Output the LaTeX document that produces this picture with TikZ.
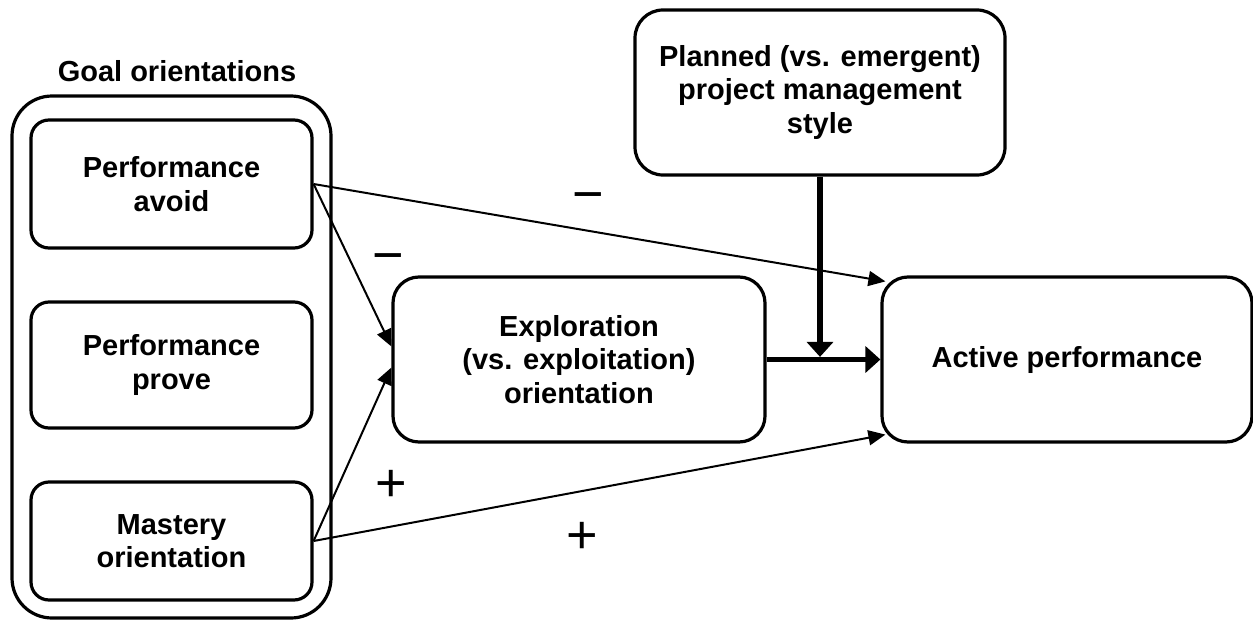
\documentclass[tikz,border=0pt]{standalone}
\usepackage{fontspec}
\setmainfont{Liberation Sans}
\usetikzlibrary{arrows.meta}

\begin{document}
\begin{tikzpicture}[x=0.5pt,y=-0.5pt,
  box/.style={draw,line width=1.6pt,rounded corners=13pt,align=center,
    inner sep=0pt,font=\fontsize{14.5}{16.75}\selectfont\bfseries},
  goalbox/.style={box,rounded corners=9pt,minimum width=140.5pt},
  bigbox/.style={box,minimum height=82.5pt},
  sign/.style={inner sep=0pt,font=\fontsize{27}{30}\selectfont},
  link/.style={line width=1pt,-{Triangle[length=8.5pt,width=7.5pt]}},
  mainlink/.style={line width=2.8pt,-{Triangle[length=7.5pt,width=13pt]}}]
  \useasboundingbox (0,0) rectangle (1253,621);

  % goal orientations group
  \node[inner sep=0pt,font=\fontsize{14.5}{16.75}\selectfont\bfseries] (goaltitle) at (177,71) {Goal orientations};
  \node[box,rounded corners=20pt,minimum width=159.5pt,minimum height=261pt] (goals) at (171.5,357) {};
  \node[goalbox,minimum height=64pt] (avoid) at (171.5,184) {Performance\\avoid};
  \node[goalbox,minimum height=63pt] (prove) at (171.5,365) {Performance\\prove};
  \node[goalbox,minimum height=59pt] (mastery) at (171.5,541) {Mastery\\orientation};

  % mediator, moderator and outcome
  \node[bigbox,rounded corners=14pt,minimum width=185pt] (planned) at (820,92.5) {Planned (vs. emergent)\\project management\\style};
  \node[bigbox,minimum width=186pt] (expl) at (579,359.5) {Exploration\\(vs. exploitation)\\orientation};
  \node[bigbox,minimum width=185pt] (active) at (1067,359.5) {Active performance};

  % paths
  \draw[link] (avoid.east) -- ([yshift=6.5pt]expl.west);
  \draw[link] (avoid.east) -- ([xshift=2.5pt,yshift=-3pt]active.north west);
  \draw[link] (mastery.east) -- ([yshift=-4pt]expl.west);
  \draw[link] (mastery.east) -- ([xshift=2.5pt,yshift=4.5pt]active.south west);
  \draw[mainlink] (expl.east) -- (active.west);
  \draw[mainlink] (planned.south) -- ([yshift=1.3pt]planned.south |- expl.east);

  % signs of the effects
  \node[sign] (signA) at (588,197) {\vphantom{+}−};
  \node[sign] (signB) at (388,258) {\vphantom{+}−};
  \node[sign] (signC) at (391,486) {+};
  \node[sign] (signD) at (582,538) {+};
\end{tikzpicture}
\end{document}
